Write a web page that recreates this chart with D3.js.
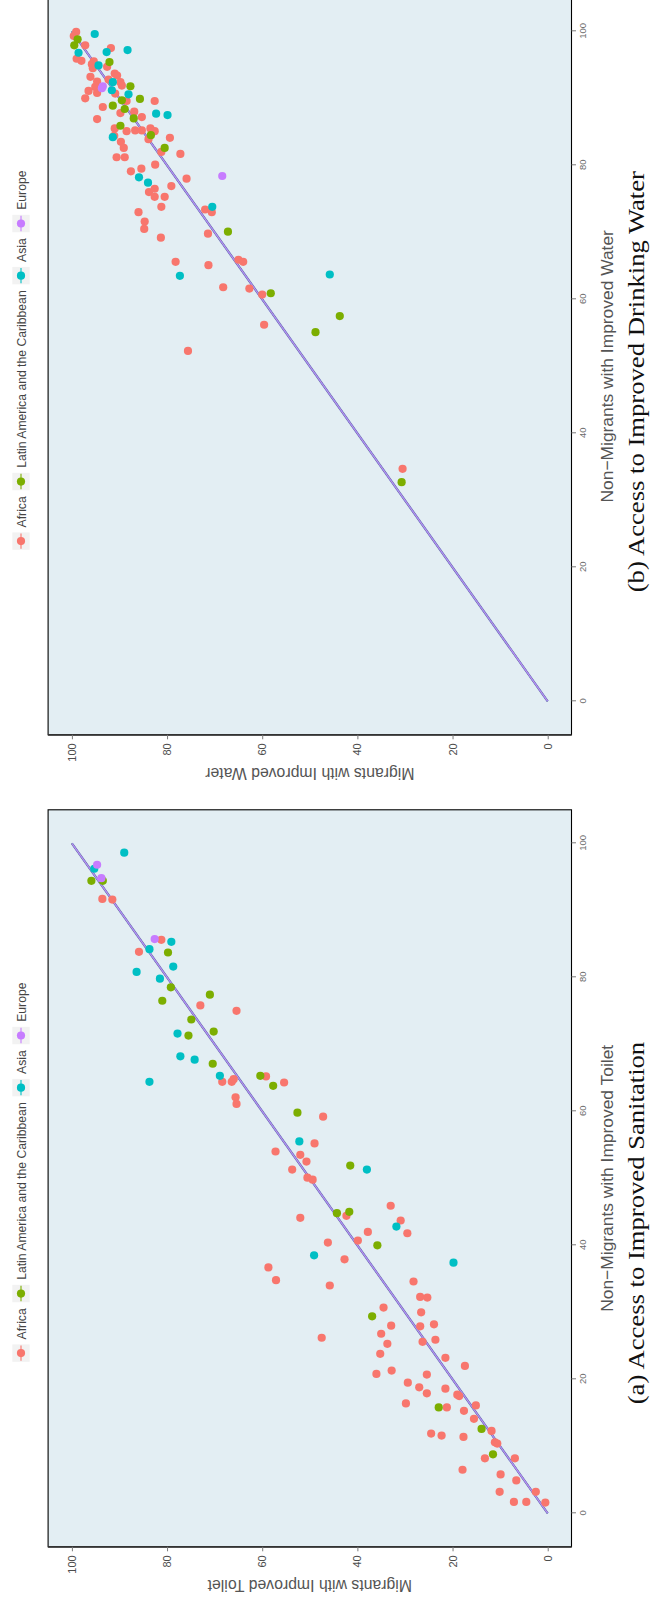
<!DOCTYPE html>
<html>
<head>
<meta charset="utf-8">
<script src="https://cdn.jsdelivr.net/npm/d3@7"></script>
<style>
  html, body { margin: 0; padding: 0; background: #ffffff; }
  svg { display: block; }
</style>
</head>
<body>
<script>
// ---- data -------------------------------------------------------------
const regions = ["Africa", "Latin America and the Caribbean", "Asia", "Europe"];
const regionColors = ["#F8766D", "#7CAE00", "#00BFC4", "#C77CFF"];
const axisTicks = [0, 20, 40, 60, 80, 100];
const axisDomain = [-5, 105];

// Access to improved sanitation: [non-migrants %, migrants %]
const toiletAfrica = [
  [91.7,93.6],[91.6,91.5],[85.6,81.2],[83.8,85.9],[75.8,73.0],[75.0,65.4],[65.2,59.2],
  [64.4,68.4],[64.4,66.4],[64.8,66.0],[64.3,55.4],[62.1,65.6],[61.1,65.4],[59.2,47.2],
  [55.2,49.0],[54.0,57.2],[53.5,52.0],[52.5,50.7],[51.3,53.7],[50.1,50.5],[49.8,49.4],
  [45.9,33.0],[44.4,42.3],[44.1,52.0],[43.7,30.9],[42.0,37.8],[41.8,29.5],[40.7,39.9],
  [40.4,46.2],[37.9,42.7],[36.7,58.7],[34.8,57.1],[34.6,28.2],[34.0,45.8],[32.3,26.8],
  [32.2,25.3],[30.7,34.5],[30.0,26.6],[28.2,23.9],[28.0,32.9],[27.9,26.8],[26.8,35.0],
  [26.2,47.5],[25.9,23.6],[25.6,26.3],[25.3,33.7],[23.8,35.2],[23.2,21.5],[22.0,17.4],
  [21.3,32.8],[20.8,36.0],[20.7,25.4],[19.5,29.4],[18.8,27.0],[18.6,21.5],[17.9,25.4],
  [17.7,19.0],[17.5,18.6],[16.4,29.8],[15.8,21.2],[16.1,15.1],[15.3,17.6],[14.1,15.5],
  [12.3,11.8],[11.9,24.5],[11.6,22.3],[11.4,17.7],[10.6,11.1],[10.4,10.6],[8.2,13.2],
  [8.2,6.9],[6.5,17.9],[5.8,9.9],[4.9,6.6],[3.2,10.1],[3.2,2.5],[1.7,7.1],[1.7,4.5],[1.6,0.5]
];
const toiletLatinAmerica = [
  [94.4,95.9],[94.4,93.5],[83.7,79.8],[78.5,79.2],[77.4,71.0],[76.5,81.0],[73.7,74.9],
  [71.9,70.2],[71.3,75.5],[67.1,70.4],[65.3,60.4],[63.8,57.7],[59.8,52.6],[51.9,41.5],
  [44.8,44.3],[45.0,41.7],[40.0,35.8],[29.4,36.9],[15.8,22.9],[12.6,13.9],[8.8,11.5]
];
const toiletAsia = [
  [98.6,89.0],[96.2,95.3],[85.3,79.1],[84.2,83.7],[81.6,78.7],[80.8,86.4],[79.8,81.5],
  [71.6,77.8],[68.2,77.2],[67.7,74.2],[65.3,68.9],[64.4,83.7],[55.5,52.2],[51.3,38.0],
  [42.8,31.8],[38.5,49.1],[37.4,19.8]
];
const toiletEurope = [[96.8,94.7],[94.8,93.8],[85.7,82.6]];

// Access to improved drinking water: [non-migrants %, migrants %]
const waterAfrica = [
  [99.9,99.1],[99.3,99.6],[97.9,97.2],[97.5,91.8],[95.9,99.0],[95.6,98.0],[95.5,95.4],
  [95.1,95.8],[94.5,95.6],[94.7,92.6],[93.7,91.0],[93.4,90.5],[93.2,96.1],[92.8,92.3],
  [92.5,94.7],[92.4,89.8],[91.9,89.5],[91.7,95.1],[91.1,96.5],[90.8,94.7],[90.7,90.9],
  [90.0,97.2],[89.6,88.5],[89.6,82.6],[88.7,93.5],[88.0,86.9],[87.8,89.8],[87.2,85.3],
  [86.9,94.7],[85.5,91.0],[85.2,86.7],[85.1,88.5],[85.2,85.3],[85.5,83.5],[85.1,82.6],
  [84.4,91.1],[84.1,79.4],[83.9,83.9],[83.5,89.7],[82.6,89.1],[82.0,81.2],[81.7,77.2],
  [81.2,90.6],[81.2,88.9],[80.1,82.5],[79.1,87.6],[79.5,85.4],[78.0,75.9],[76.0,83.8],
  [76.5,82.6],[76.9,79.1],[75.3,82.6],[75.3,80.5],[73.8,81.2],[73.4,72.0],[73.0,70.6],
  [73.0,86.0],[71.6,84.7],[70.5,84.8],[69.8,71.4],[69.2,81.3],[65.9,65.0],[65.6,64.0],
  [65.6,78.2],[65.1,71.3],[61.8,68.2],[61.6,62.7],[60.7,60.0],[56.2,59.6],[52.3,75.6],
  [34.7,30.5]
];
const waterLatinAmerica = [
  [98.8,98.8],[97.9,99.5],[95.4,92.1],[91.8,87.7],[89.9,85.7],[89.7,89.5],[88.9,91.4],
  [88.4,88.9],[87.0,87.0],[85.9,89.8],[84.5,83.4],[82.6,80.5],[70.1,67.2],[60.9,58.2],
  [57.5,43.7],[55.1,48.8],[32.7,30.7]
];
const waterAsia = [
  [99.6,95.2],[96.8,98.6],[97.2,88.3],[96.9,92.7],[94.9,94.4],[92.4,91.4],[91.2,91.6],
  [90.6,88.1],[87.7,82.3],[87.5,79.9],[84.2,91.4],[78.2,85.9],[77.4,84.0],[73.8,70.5],
  [63.5,77.3],[63.7,45.8]
];
const waterEurope = [[91.8,93.5],[91.5,93.7],[78.4,68.4]];

const panelTitles = ["Non\u2212Migrants with Improved Toilet", "Non\u2212Migrants with Improved Water"];
const panelYTitles = ["Migrants with Improved Toilet", "Migrants with Improved Water"];
const panelCaptions = ["(a) Access to Improved Sanitation", "(b) Access to Improved Drinking Water"];

const panels = [
  { series: [toiletAfrica, toiletLatinAmerica, toiletAsia, toiletEurope],
    xTitle: panelTitles[0], yTitle: panelYTitles[0], caption: panelCaptions[0] },
  { series: [waterAfrica, waterLatinAmerica, waterAsia, waterEurope],
    xTitle: panelTitles[1], yTitle: panelYTitles[1], caption: panelCaptions[1] }
];

// ---- layout -----------------------------------------------------------
// The figure is laid out landscape (1606 x 654) and turned a quarter
// turn counter-clockwise onto the portrait page.
const W = 1606, H = 654;
const panelW = 737;
const panelOffsets = [59.2, 871.2];
const plotTop = 48.1, plotBottom = 571.5;
const sans = "'Liberation Sans', Arial, Helvetica, sans-serif";
const serif = "'Liberation Serif', 'Times New Roman', serif";
const captionScale = 1.11;   // book-face width relative to the Times metrics

const svg = d3.select("body").append("svg")
  .attr("width", H).attr("height", W);
svg.append("rect").attr("width", H).attr("height", W).attr("fill", "#ffffff");

const page = svg.append("g").attr("transform", `translate(0,${W}) rotate(-90)`);

panels.forEach((p, pi) => {
  const left = panelOffsets[pi];
  const x = d3.scaleLinear().domain(axisDomain).range([left, left + panelW]);
  const y = d3.scaleLinear().domain(axisDomain).range([plotBottom, plotTop]);
  const g = page.append("g").attr("class", "panel");

  // panel background
  g.append("rect")
    .attr("x", left).attr("y", plotTop)
    .attr("width", panelW).attr("height", plotBottom - plotTop)
    .attr("fill", "#E3EEF3");

  // 45-degree reference segment: a dark edge, then one stroke per region
  g.append("line")
    .attr("x1", x(0)).attr("y1", y(0))
    .attr("x2", x(100)).attr("y2", y(100))
    .attr("stroke", "#6a5fd6")
    .attr("stroke-width", 2.3);
  regions.forEach((r, i) => {
    g.append("line")
      .attr("x1", x(0)).attr("y1", y(0))
      .attr("x2", x(100)).attr("y2", y(100))
      .attr("stroke", regionColors[i])
      .attr("stroke-width", 1.2);
  });

  // points
  p.series.forEach((s, i) => {
    g.append("g").selectAll("circle")
      .data(s)
      .join("circle")
      .attr("cx", d => x(d[0]))
      .attr("cy", d => y(d[1]))
      .attr("r", 4.1)
      .attr("fill", regionColors[i]);
  });

  // panel border
  g.append("rect")
    .attr("x", left).attr("y", plotTop)
    .attr("width", panelW).attr("height", plotBottom - plotTop)
    .attr("fill", "none")
    .attr("stroke", "#000000")
    .attr("stroke-width", 1.1);

  // left axis line
  g.append("line")
    .attr("x1", left).attr("x2", left)
    .attr("y1", plotTop).attr("y2", plotBottom)
    .attr("stroke", "#333333").attr("stroke-width", 1.8);

  // x axis
  const xAxis = g.append("g")
    .attr("transform", `translate(0,${plotBottom})`)
    .call(d3.axisBottom(x).tickValues(axisTicks).tickSize(4.5).tickPadding(3));
  xAxis.select(".domain").remove();
  xAxis.attr("font-family", sans).attr("font-size", 9.5);
  xAxis.selectAll(".tick line").attr("stroke", "#7a7a7a").attr("stroke-width", 1);
  xAxis.selectAll(".tick text").attr("fill", "#6b6b6b");

  // y axis
  const yAxis = g.append("g")
    .attr("transform", `translate(${left},0)`)
    .call(d3.axisLeft(y).tickValues(axisTicks).tickSize(4.5).tickPadding(4));
  yAxis.select(".domain").remove();
  yAxis.attr("font-family", sans).attr("font-size", 11);
  yAxis.selectAll(".tick line").attr("stroke", "#7a7a7a").attr("stroke-width", 1);
  yAxis.selectAll(".tick text").attr("fill", "#4d4d4d");

  // axis titles
  g.append("text")
    .attr("x", left + panelW / 2).attr("y", 613)
    .attr("text-anchor", "middle")
    .attr("font-family", sans).attr("font-size", 17.4)
    .attr("fill", "#555555")
    .text(p.xTitle);

  g.append("text")
    .attr("transform", `translate(${left - 33},${(plotTop + plotBottom) / 2}) rotate(-90)`)
    .attr("text-anchor", "middle")
    .attr("font-family", sans).attr("font-size", 15.8)
    .attr("fill", "#555555")
    .text(p.yTitle);

  // legend
  const legend = g.append("g").attr("font-family", sans).attr("font-size", 12.2);
  const keySize = 17.4, keyY = 12.3;
  let cursor = left + 185;
  regions.forEach((r, i) => {
    const key = legend.append("g");
    key.append("rect")
      .attr("x", cursor).attr("y", keyY)
      .attr("width", keySize).attr("height", keySize)
      .attr("fill", "#F2F2F2");
    key.append("line")
      .attr("x1", cursor + 1).attr("x2", cursor + keySize - 1)
      .attr("y1", keyY + keySize / 2).attr("y2", keyY + keySize / 2)
      .attr("stroke", regionColors[i]).attr("stroke-width", 1.1);
    key.append("circle")
      .attr("cx", cursor + keySize / 2).attr("cy", keyY + keySize / 2)
      .attr("r", 4.1).attr("fill", regionColors[i]);
    const label = legend.append("text")
      .attr("x", cursor + keySize + 5).attr("y", 26)
      .attr("fill", "#444444")
      .text(r);
    cursor += keySize + 5 + label.node().getComputedTextLength() + 6;
  });

  // subfigure caption
  const cap = g.append("text")
    .attr("x", left + 142.5).attr("y", 644)
    .attr("text-anchor", "start")
    .attr("font-family", serif).attr("font-size", 24)
    .attr("fill", "#111111")
    .text(p.caption);
  const natural = cap.node().getComputedTextLength();
  cap.attr("textLength", natural * captionScale).attr("lengthAdjust", "spacingAndGlyphs");
});
</script>
</body>
</html>
